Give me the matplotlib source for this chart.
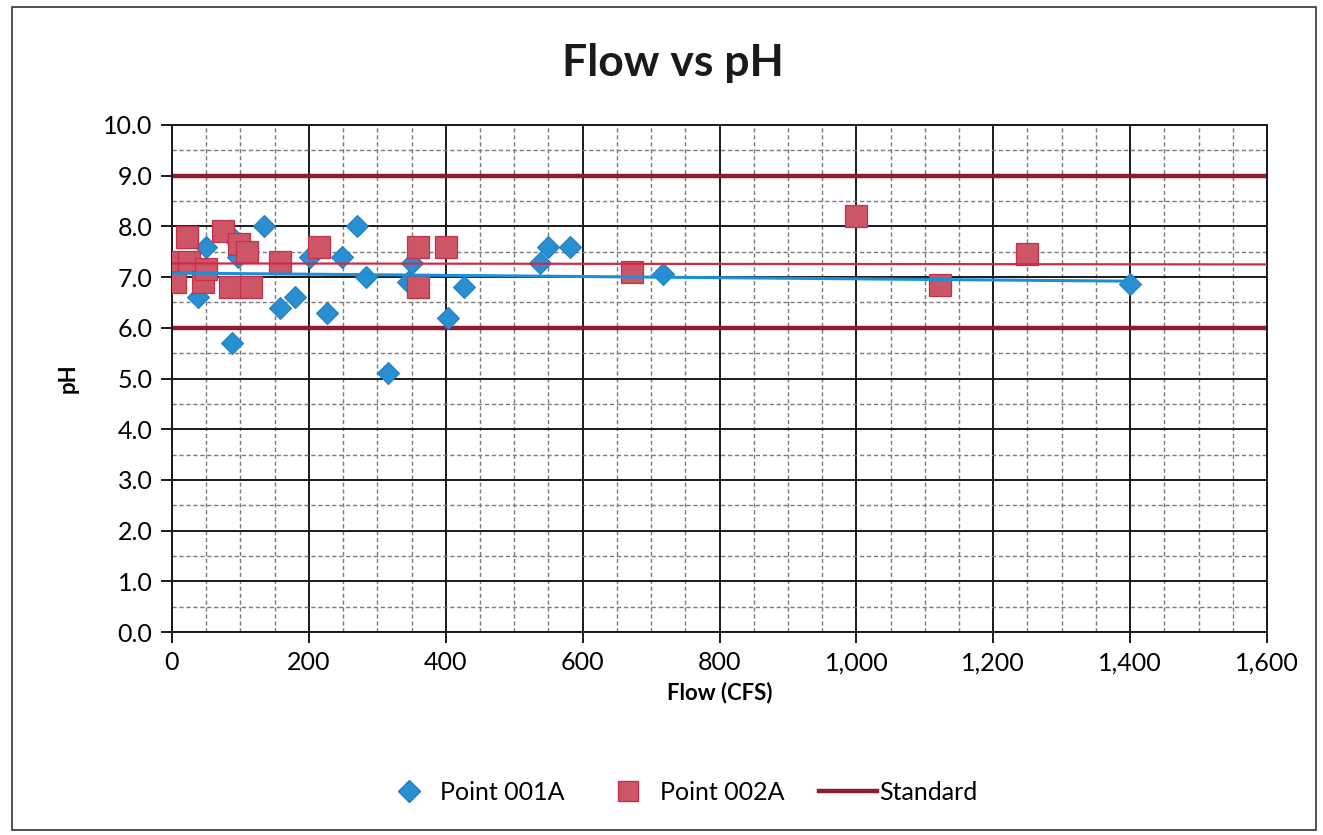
import matplotlib.pyplot as plt
import numpy as np
from matplotlib.lines import Line2D
from matplotlib.patches import Rectangle
from matplotlib.ticker import FuncFormatter, MultipleLocator

plt.rcParams['font.family'] = ['Lato', 'DejaVu Sans']

# Point 001A (blue diamonds)
flow_001a = [38, 50, 87, 90, 97, 134, 158, 180, 201, 226, 248, 270, 283, 315,
             345, 350, 404, 426, 538, 550, 581, 718, 1400]
ph_001a = [6.6, 7.6, 5.7, 7.75, 7.4, 8.0, 6.4, 6.6, 7.4, 6.3, 7.4, 8.0, 7.0, 5.1,
           6.9, 7.27, 6.2, 6.8, 7.27, 7.6, 7.6, 7.07, 6.86]

# Point 002A (red squares)
flow_002a = [0, 5, 22, 25, 45, 50, 75, 85, 98, 110, 115, 158, 215, 360, 360,
             400, 672, 1000, 1122, 1250]
ph_002a = [7.3, 6.9, 7.8, 7.3, 6.9, 7.15, 7.9, 6.8, 7.65, 7.5, 6.8, 7.3, 7.6,
           7.6, 6.8, 7.6, 7.1, 8.2, 6.85, 7.45]

# linear trendlines: (x start, x end, pH start, pH end)
trend_001a = (0, 1400, 7.08, 6.92)
trend_002a = (0, 1600, 7.27, 7.25)

# pH standard limits
standard_limits = [6.0, 9.0]

fig = plt.figure(figsize=(13.23, 8.35), dpi=100)
ax = fig.add_axes([0.130, 0.2431, 0.8277, 0.6072])

ax.set_xlim(0, 1600)
ax.set_ylim(0, 10)
ax.xaxis.set_major_locator(MultipleLocator(200))
ax.xaxis.set_minor_locator(MultipleLocator(50))
ax.yaxis.set_major_locator(MultipleLocator(1))
ax.yaxis.set_minor_locator(MultipleLocator(0.5))
ax.xaxis.set_major_formatter(FuncFormatter(lambda v, p: f"{int(v):,}"))
ax.yaxis.set_major_formatter(FuncFormatter(lambda v, p: f"{v:.1f}"))

ax.grid(which='major', color='#1a1a1a', linewidth=1.4, linestyle='-')
ax.grid(which='minor', color='#7a7a7a', linewidth=1.0, linestyle=(0, (3, 2)))
ax.set_axisbelow(True)
for s in ax.spines.values():
    s.set_color('#1a1a1a')
    s.set_linewidth(1.4)

ax.tick_params(which='major', direction='out', length=8, width=1.4,
               labelsize=18, color='#1a1a1a', pad=6)
ax.tick_params(which='minor', length=0)

for lim in standard_limits:
    ax.plot([0, 1600], [lim, lim], color='#8c1c34', linewidth=3.2,
            zorder=2, solid_capstyle='butt')

ax.plot(flow_001a, ph_001a, linestyle='none', marker='D', markersize=11,
        markerfacecolor='#2a8fd0', markeredgecolor='#1f80c2',
        markeredgewidth=0.8, zorder=3)
ax.plot(flow_002a, ph_002a, linestyle='none', marker='s', markersize=16,
        markerfacecolor='#cc5666', markeredgecolor='#c4304a',
        markeredgewidth=0.9, zorder=4)

ax.plot(trend_002a[:2], trend_002a[2:], color='#cf2a4a', linewidth=1.6, zorder=5)
ax.plot(trend_001a[:2], trend_001a[2:], color='#1e8fd6', linewidth=2.2, zorder=6)

ax.set_xlabel('Flow (CFS)', fontsize=16, fontweight='bold', labelpad=5)
ax.set_ylabel('pH', fontsize=16, fontweight='bold', labelpad=18)
fig.text(0.5087, 0.925, 'Flow vs pH', fontsize=32, fontweight='bold',
         ha='center', va='center', color='#1a1a1a')

handles = [
    Line2D([], [], linestyle='none', marker='D', markersize=11,
           markerfacecolor='#2a8fd0', markeredgecolor='#1f80c2'),
    Line2D([], [], linestyle='none', marker='s', markersize=15,
           markerfacecolor='#cc5666', markeredgecolor='#c4304a'),
    Line2D([], [], color='#8c1c34', linewidth=3.2),
]
fig.legend(handles, ['Point 001A', 'Point 002A', 'Standard'], loc='center',
           bbox_to_anchor=(0.513, 0.051), ncol=3, frameon=False, fontsize=18,
           handlelength=2.3, handletextpad=0.1, columnspacing=1.4)

fig.patches.append(Rectangle((0.009, 0.006), 0.986, 0.986, transform=fig.transFigure,
                             fill=False, edgecolor='#333333', linewidth=1.2))

fig.savefig('out.png', dpi=100, facecolor='white')
